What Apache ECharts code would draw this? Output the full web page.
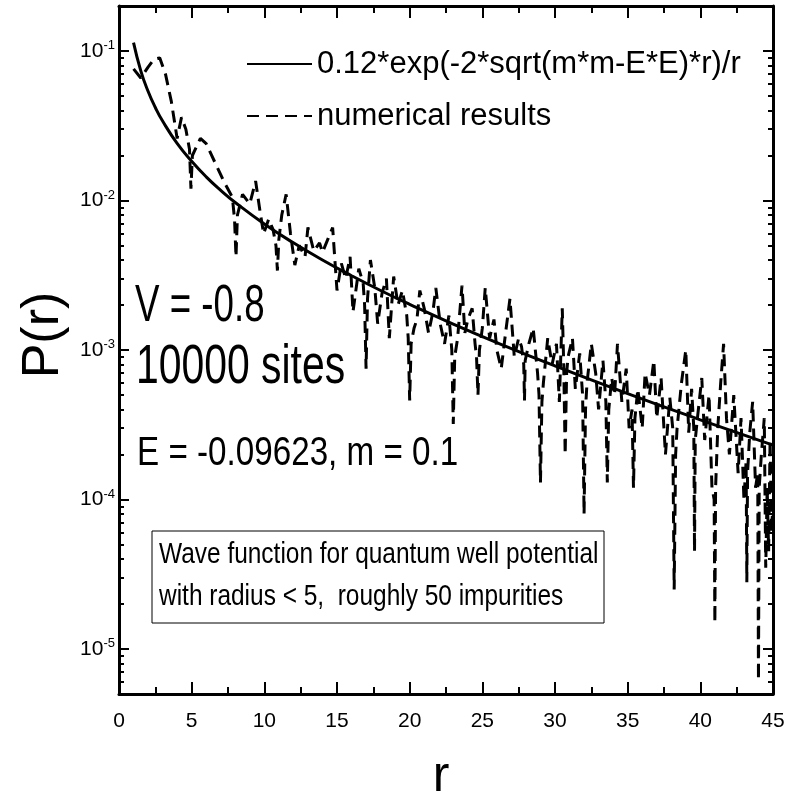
<!DOCTYPE html>
<html>
<head>
<meta charset="utf-8">
<script src="https://cdn.jsdelivr.net/npm/echarts@6/dist/echarts.min.js"></script>
<style>
  html, body { margin: 0; padding: 0; background: #fff; }
  #chart { width: 787px; height: 794px; }
</style>
</head>
<body>
<div id="chart"></div>
<script>
const FONT = "'Liberation Sans', Arial, sans-serif"

// fitted curve
const fitR = [1, 1.5, 2, 2.5, 3, 4, 5, 6, 7, 8, 10, 12, 14, 16, 18, 20, 23, 26, 30, 35, 40, 45]
const fitP = [0.1137, 0.0737, 0.0538, 0.0419, 0.0340, 0.0241, 0.0183, 0.0144, 0.0117, 0.0097,
  0.00697, 0.00521, 0.00400, 0.00314, 0.00250, 0.00202, 0.00149, 0.00112, 0.000782, 0.000511,
  0.000341, 0.000231]

// numerical results
const numR = [1.0, 1.5, 2.0, 2.4, 2.8, 3.2, 3.6, 4.0, 4.3, 4.6, 4.85, 4.95, 5.05, 5.6, 6.0, 6.6, 7.2, 7.8, 7.95, 8.05, 8.15, 8.5,
  9.0, 9.4, 9.7, 9.95, 10.3, 10.6, 10.8, 10.9, 11.0, 11.2, 11.5, 11.8, 12.1, 12.4, 12.8, 13.0, 13.4, 13.8, 14.0, 14.4, 14.7, 15.0,
  15.3, 15.6, 15.9, 16.1, 16.5, 16.8, 16.9, 17.0, 17.1, 17.3, 17.6, 17.8, 18.1, 18.4, 18.6, 18.9, 19.2, 19.5, 19.8, 19.9, 20.0, 20.1, 20.3, 20.5,
  20.7, 21.0, 21.3, 21.6, 21.8, 22.1, 22.4, 22.7, 22.9, 23.0, 23.1, 23.3, 23.6, 23.8, 24.0, 24.3, 24.5, 24.6, 24.7, 24.8, 25.0, 25.2, 25.5, 25.8,
  26.0, 26.3, 26.6, 26.9, 27.2, 27.5, 27.7, 27.85, 27.9, 27.95, 28.2, 28.5, 28.8, 28.9, 29.0, 29.1, 29.2, 29.5, 29.8, 30.1, 30.3, 30.5, 30.6, 30.7, 30.8, 30.9,
  31.2, 31.4, 31.7, 31.9, 32.0, 32.1, 32.2, 32.5, 32.8, 33.0, 33.3, 33.5, 33.6, 33.7, 33.9, 34.1, 34.3, 34.6, 34.9, 35.1, 35.3, 35.4, 35.5, 35.7, 36.0, 36.2,
  36.5, 36.8, 37.0, 37.3, 37.6, 37.9, 38.1, 38.2, 38.3, 38.4, 38.7, 39.0, 39.2, 39.4, 39.55, 39.6, 39.65, 39.8, 40.1, 40.3, 40.6, 40.8, 40.95, 41.0, 41.05, 41.2,
  41.4, 41.6, 41.8, 42.0, 42.3, 42.6, 42.8, 43.0, 43.15, 43.2, 43.25, 43.4, 43.6, 43.8, 43.95, 44.0, 44.05, 44.2, 44.4, 44.5, 44.6, 44.7, 44.8, 44.9, 45.0]
const numP = [0.076, 0.066, 0.078, 0.088, 0.090, 0.070, 0.046, 0.026, 0.036, 0.030, 0.022, 0.012, 0.020, 0.026, 0.024, 0.018, 0.0135, 0.0105, 0.0075, 0.0042, 0.0080, 0.011,
  0.0095, 0.0135, 0.0085, 0.006, 0.0075, 0.0064, 0.0050, 0.0034, 0.0055, 0.0080, 0.0110, 0.0060, 0.0037, 0.0050, 0.0042, 0.0066, 0.0046, 0.0052, 0.0045, 0.0056, 0.0066, 0.0025,
  0.0038, 0.0030, 0.0042, 0.0018, 0.0035, 0.0028, 0.0020, 0.00075, 0.0022, 0.0040, 0.0026, 0.0015, 0.0024, 0.0030, 0.0012, 0.0031, 0.0020, 0.0025, 0.0017, 0.0012, 0.00046, 0.0011, 0.0014, 0.0016,
  0.0025, 0.0019, 0.0013, 0.0018, 0.0026, 0.0015, 0.0011, 0.0017, 0.0010, 0.00032, 0.0009, 0.0012, 0.0027, 0.0013, 0.0016, 0.0019, 0.0011, 0.0009, 0.00050, 0.0010, 0.0014, 0.0026, 0.0012, 0.0016,
  0.0010, 0.00075, 0.0013, 0.0022, 0.00090, 0.0012, 0.00105, 0.00080, 0.00046, 0.00085, 0.0011, 0.0014, 0.00070, 0.00050, 0.00013, 0.00045, 0.00060, 0.0012, 0.00080, 0.0011, 0.00045, 0.0019, 0.00080, 0.00020, 0.00070, 0.00090,
  0.0012, 0.00055, 0.00095, 0.00050, 0.000080, 0.00040, 0.00060, 0.0011, 0.00070, 0.00040, 0.00085, 0.00045, 0.00013, 0.00040, 0.00065, 0.00050, 0.0011, 0.00045, 0.00075, 0.00030, 0.00040, 0.00012, 0.00035, 0.00055, 0.00030, 0.00070,
  0.00050, 0.00085, 0.00035, 0.00065, 0.00020, 0.00048, 0.00030, 0.000025, 0.00020, 0.00030, 0.00060, 0.0010, 0.00028, 0.00055, 0.00030, 0.000045, 0.00025, 0.00035, 0.00065, 0.00025, 0.00050, 0.00012, 0.00010, 0.000015, 0.00012, 0.00030,
  0.00060, 0.0011, 0.00035, 0.00020, 0.00050, 0.00015, 0.00035, 0.00010, 0.00018, 0.000028, 0.00015, 0.00028, 0.00045, 0.00012, 0.00015, 0.0000062, 0.00012, 0.00020, 0.00035, 0.000035, 0.00012, 0.000045, 0.00025, 0.00006, 0.00010]

const yMajor = [1e-5, 1e-4, 1e-3, 1e-2, 1e-1]
const yMajorExp = ['-5', '-4', '-3', '-2', '-1']
const yMinor = [6e-6, 7e-6, 8e-6, 9e-6,
  2e-5, 3e-5, 4e-5, 5e-5, 6e-5, 7e-5, 8e-5, 9e-5,
  2e-4, 3e-4, 4e-4, 5e-4, 6e-4, 7e-4, 8e-4, 9e-4,
  2e-3, 3e-3, 4e-3, 5e-3, 6e-3, 7e-3, 8e-3, 9e-3,
  2e-2, 3e-2, 4e-2, 5e-2, 6e-2, 7e-2, 8e-2, 9e-2]

const fitName = '0.12*exp(-2*sqrt(m*m-E*E)*r)/r'
const numName = 'numerical results'

const chart = echarts.init(document.getElementById('chart'))

function yAx (pos, ticks, len, withLine, withLabel) {
  return {
    type: 'log',
    logBase: 10,
    min: 5e-6,
    max: 0.2,
    position: pos,
    axisLine: { show: withLine, lineStyle: { color: '#000', width: 3 } },
    axisTick: { show: true, inside: true, length: len, customValues: ticks, lineStyle: { color: '#000', width: 2 } },
    axisLabel: withLabel ? {
      show: true,
      customValues: yMajor,
      margin: 4,
      formatter: function (v) {
        const i = yMajor.findIndex(t => Math.abs(t - v) / t < 1e-6)
        return i < 0 ? '' : '{b|10}{s|' + yMajorExp[i] + '}'
      },
      rich: {
        b: { fontFamily: FONT, fontSize: 21, color: '#000', lineHeight: 24 },
        s: { fontFamily: FONT, fontSize: 13, color: '#000', verticalAlign: 'top', lineHeight: 24 }
      }
    } : { show: false },
    splitLine: { show: false },
    name: withLabel ? 'P(r)' : '',
    nameLocation: 'middle',
    nameRotate: 90,
    nameGap: 48,
    nameTextStyle: { fontFamily: FONT, fontSize: 52, color: '#000', padding: [0, 0, 0, 30] }
  }
}

function xAx (pos, withLabel) {
  return {
    type: 'value',
    min: 0,
    max: 45,
    interval: 5,
    position: pos,
    axisLine: { show: true, lineStyle: { color: '#000', width: 3 } },
    axisTick: { show: true, inside: true, length: 12, lineStyle: { color: '#000', width: 2 } },
    minorTick: { show: true, splitNumber: 2, length: 7, lineStyle: { color: '#000', width: 2 } },
    axisLabel: { show: withLabel, margin: 17, fontFamily: FONT, fontSize: 21, color: '#000' },
    splitLine: { show: false },
    name: withLabel ? 'r' : '',
    nameLocation: 'middle',
    nameGap: 58,
    nameTextStyle: { fontFamily: FONT, fontSize: 50, color: '#000', padding: [0, 10, 0, 0] }
  }
}

function label (txt, x, y, size, sx, z) {
  return {
    type: 'text', x: x, y: y, scaleX: sx, z: z || 5,
    style: { text: txt, font: size + 'px ' + FONT, fill: '#000', align: 'left', verticalAlign: 'top' }
  }
}

const option = {
  animation: false,
  backgroundColor: '#fff',
  grid: { left: 119, right: 14, top: 6, bottom: 100, outerBoundsMode: 'none', containLabel: false },
  xAxis: [xAx('bottom', true), xAx('top', false)],
  yAxis: [
    yAx('left', yMajor, 10, true, true),
    yAx('left', yMinor, 5, false, false),
    yAx('right', yMajor, 10, true, false),
    yAx('right', yMinor, 5, false, false)
  ],
  legend: {
    orient: 'vertical',
    left: 241,
    top: 41,
    itemWidth: 65,
    itemHeight: 14,
    itemGap: 16,
    itemStyle: { opacity: 0 },
    data: [fitName, numName],
    textStyle: { fontFamily: FONT, fontSize: 31, lineHeight: 36, color: '#000' }
  },
  series: [
    {
      name: numName,
      type: 'line',
      data: numR.map((r, i) => [r, numP[i]]),
      symbol: 'none',
      itemStyle: { color: '#000' },
      lineStyle: { color: '#000', width: 3, type: [12, 7] }
    },
    {
      name: fitName,
      type: 'line',
      data: fitR.map((r, i) => [r, fitP[i]]),
      smooth: true,
      symbol: 'none',
      itemStyle: { color: '#000' },
      lineStyle: { color: '#000', width: 3, type: 'solid' }
    }
  ],
  graphic: [
    label('V = -0.8', 135, 281, 51, 0.72),
    label('10000 sites', 136, 340, 56, 0.73),
    label('E = -0.09623, m = 0.1', 137, 433, 41, 0.81),
    {
      type: 'rect',
      shape: { x: 152, y: 531, width: 452, height: 92 },
      style: { fill: '#fff', stroke: '#000', lineWidth: 1 },
      z: 10
    },
    label('Wave function for quantum well potential', 159, 540, 30, 0.815, 11),
    label('with radius < 5,  roughly 50 impurities', 159, 582, 30, 0.815, 11)
  ]
}

chart.setOption(option)
</script>
</body>
</html>
